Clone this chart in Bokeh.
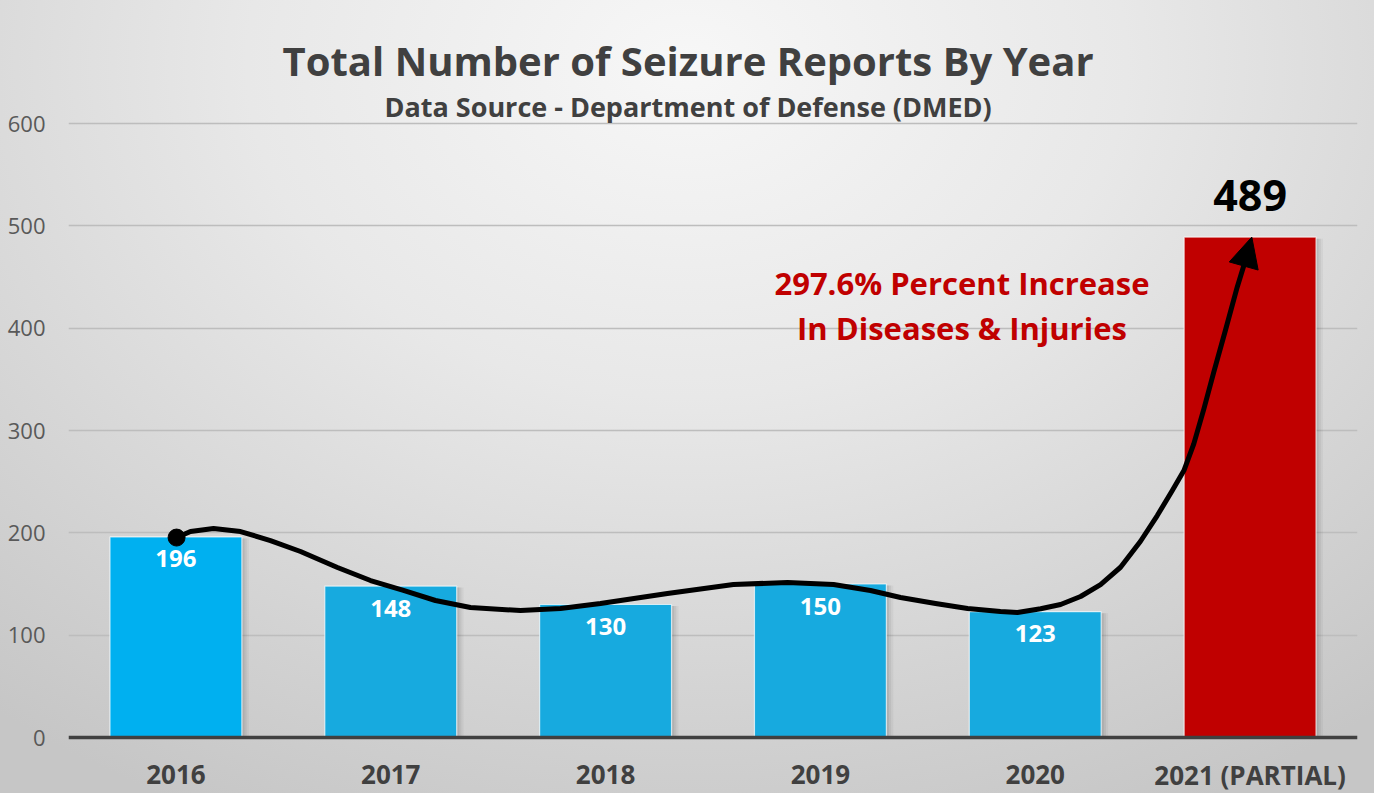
from bokeh.plotting import figure
from bokeh.models import (ColumnDataSource, FixedTicker, Span, Label, Arrow,
                          NormalHead, Range1d)
from bokeh.core.properties import value
from bokeh.embed import file_html
from bokeh.resources import INLINE

# ---------------- data ----------------
years = ["2016", "2017", "2018", "2019", "2020", "2021 (PARTIAL)"]
reports = [196, 148, 130, 150, 123, 489]
bar_colors = ["#00B0F0", "#17AADF", "#17AADF", "#17AADF", "#17AADF", "#C00000"]
y_ticks = [0, 100, 200, 300, 400, 500, 600]

# trend annotation curve (category position, value)
curve_x = [0.503, 0.568, 0.675, 0.801, 0.940, 1.080, 1.252, 1.406, 1.559, 1.708,
           1.871, 2.104, 2.290, 2.476, 2.788, 3.095, 3.347, 3.561, 3.733, 3.873,
           4.036, 4.185, 4.338, 4.417, 4.525, 4.618, 4.711, 4.804, 4.897, 4.990,
           5.068, 5.138, 5.192, 5.238, 5.285, 5.331, 5.385, 5.440, 5.471]
curve_y = [195.4, 201.3, 204.2, 201.3, 192.5, 181.8, 166.1, 153.4, 143.7, 133.9,
           127.0, 124.1, 126.1, 130.9, 140.7, 149.5, 151.5, 149.5, 143.7, 136.8,
           130.9, 126.1, 123.1, 122.2, 125.8, 130.0, 137.8, 149.5, 166.4, 191.8,
           216.9, 241.4, 260.9, 287.0, 321.2, 357.0, 397.7, 440.1, 461.3]

title_text = "Total Number of Seizure Reports By Year"
subtitle_text = "Data Source - Department of Defense (DMED)"
note_lines = ["297.6% Percent Increase", "In Diseases & Injuries"]
peak_label = "489"

FONT = "Open Sans"

xs = [i + 0.5 for i in range(len(years))]
src = ColumnDataSource(dict(x=xs, top=reports, color=bar_colors))

p = figure(width=1374, height=793, output_backend="svg", toolbar_location=None,
           x_range=Range1d(0, len(years)), y_range=Range1d(-54.7, 720.2),
           x_axis_location=None,
           min_border_left=68, min_border_right=17, min_border_top=0,
           min_border_bottom=0)
p.styles = {"background": "radial-gradient(ellipse 80% 105% at 50% 8%, #f7f7f7 0%, #e8e8e8 40%, #d4d4d4 75%, #c6c6c6 100%)"}
p.border_fill_alpha = 0
p.background_fill_alpha = 0
p.outline_line_color = None

# grid
p.xgrid.grid_line_color = None
p.ygrid.grid_line_color = "#bdbdbd"
p.ygrid.grid_line_width = 1.5
p.ygrid.ticker = FixedTicker(ticks=y_ticks)

# y axis
p.yaxis.ticker = FixedTicker(ticks=y_ticks)
p.yaxis.axis_line_color = None
p.yaxis.major_tick_line_color = None
p.yaxis.major_tick_out = 0
p.yaxis.major_tick_in = 0
p.yaxis.minor_tick_line_color = None
p.yaxis.minor_tick_out = 0
p.yaxis.major_label_standoff = 23
p.yaxis.major_label_text_font = FONT
p.yaxis.major_label_text_font_size = "22px"
p.yaxis.major_label_text_color = "#595959"

# bar shadows
for off, a in [(0.012, 0.10), (0.022, 0.08), (0.032, 0.06)]:
    p.vbar(x=[x + off for x in xs], top=[v - 1.5 for v in reports], width=0.614,
           bottom=0, fill_color="#404040", fill_alpha=a, line_color=None)

# bars
p.vbar(x="x", top="top", width=0.614, bottom=0, source=src, fill_color="color",
       line_color="white", line_alpha=0.7, line_width=1.2)

# zero line
p.add_layout(Span(location=0, dimension="width", line_color="#404040", line_width=3.5))

# category labels below the axis
p.text(x=xs, y=[0] * len(xs), text=years, text_align="center",
       text_baseline="middle", y_offset=37, text_color="#404040",
       text_font=value(FONT), text_font_style="bold", text_font_size="26px")

# value labels inside bars (not for last)
p.text(x=xs[:-1], y=reports[:-1], text=[str(v) for v in reports[:-1]],
       text_align="center", text_baseline="middle", y_offset=22,
       text_color="white", text_font=value(FONT), text_font_style="bold",
       text_font_size="24px")

# trend curve
p.line(curve_x, curve_y, line_color="black", line_width=5, line_join="round",
       line_cap="round")
p.scatter([curve_x[0]], [curve_y[0]], size=17, fill_color="black", line_color="black")
p.add_layout(Arrow(end=NormalHead(size=30, fill_color="black", line_color="black"),
                   x_start=curve_x[-1], y_start=curve_y[-1], x_end=xs[-1] + 0.008,
                   y_end=reports[-1], line_color="black", line_width=5))

# titles and notes
def lab(txt, x, y, size, color, style="bold"):
    p.add_layout(Label(x=x, y=y, text=txt, text_align="center",
                       text_baseline="middle", text_font=FONT,
                       text_font_style=style, text_font_size=size,
                       text_color=color))

lab(title_text, 2.884, 661.6, "40px", "#404040")
lab(subtitle_text, 2.884, 617.1, "27px", "#404040")
lab(note_lines[0], 4.159, 444.2, "31px", "#C00000")
lab(note_lines[1], 4.159, 400.2, "31px", "#C00000")
lab(peak_label, xs[-1], 529.2, "43px", "black")

open("out.html", "w").write(file_html(p, INLINE))
